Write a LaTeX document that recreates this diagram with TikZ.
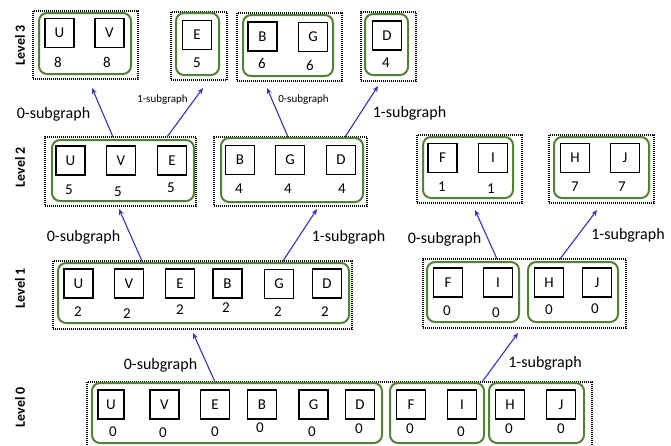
\documentclass[tikz,border=0pt]{standalone}
\usepackage{fontspec}
\setmainfont{Carlito}
\usetikzlibrary{arrows.meta}
\definecolor{grn}{RGB}{84,130,53}
\definecolor{arrblue}{RGB}{50,50,190}
\newcommand\mkbox[6]{%
 \pgfmathsetmacro\mbcx{(#3+#5)/2}\pgfmathsetmacro\mbcy{(#4+#6)/2}%
 \pgfmathsetmacro\mbw{#5-#3}\pgfmathsetmacro\mbh{#6-#4}%
 \node[#1, minimum width=\mbw pt, minimum height=\mbh pt] (#2) at (\mbcx,\mbcy) {};}
\tikzset{
 dotbox/.style={draw=black, line width=1.2pt, dash pattern=on 1pt off 1pt, inner sep=0pt, outer sep=0pt},
 grnbox/.style={draw=grn, line width=2pt, rounded corners=8pt, inner sep=0pt, outer sep=0pt},
 sq/.style={draw=black, line width=1.3pt, minimum width=29pt, minimum height=29pt, inner sep=0pt, font=\fontsize{15}{15}\selectfont},
 num/.style={inner sep=0pt, font=\fontsize{15}{15}\selectfont},
 lvl/.style={rotate=90, inner sep=0pt, font=\fontsize{14}{14}\selectfont\bfseries},
 biglab/.style={anchor=base, inner sep=0pt, font=\fontsize{16}{16}\selectfont},
 smalllab/.style={anchor=base, inner sep=0pt, font=\fontsize{11}{11}\selectfont},
 arr/.style={draw=arrblue, line width=1.1pt, -{Stealth[length=6pt,width=5pt]}}
}
\begin{document}
\begin{tikzpicture}[x=1pt,y=-1pt]
\useasboundingbox (0,0) rectangle (671,445);
% level labels
\node[lvl] (lv3) at (20,45) {Level 3};
\node[lvl] (lv2) at (20,167) {Level 2};
\node[lvl] (lv1) at (20,288) {Level 1};
\node[lvl] (lv0) at (20,407) {Level 0};
% ---------- Level 3
\mkbox{dotbox}{l3a}{33}{11}{138}{79}
\mkbox{grnbox}{g3a}{39}{13}{131}{74}
\node[sq] (l3U) at (59.5,33) {U};
\node[sq] (l3V) at (109.5,33) {V};
\node[num] (l3Un) at (58,62) {8};
\node[num] (l3Vn) at (107,62) {8};
\mkbox{dotbox}{l3b}{171}{12}{227}{80}
\mkbox{grnbox}{g3b}{176}{13}{219}{75}
\node[sq] (l3E) at (197,35) {E};
\node[num] (l3En) at (197,63) {5};
\mkbox{dotbox}{l3c}{237}{13}{342}{81}
\mkbox{grnbox}{g3c}{243}{15}{333}{76}
\node[sq] (l3B) at (262.5,36.5) {B};
\node[sq] (l3G) at (313,37) {G};
\node[num] (l3Bn) at (262,63) {6};
\node[num] (l3Gn) at (310,65) {6};
\mkbox{dotbox}{l3d}{361}{12}{416}{81}
\mkbox{grnbox}{g3d}{365}{14}{408}{75}
\node[sq] (l3D) at (387,35.5) {D};
\node[num] (l3Dn) at (386,63) {4};
% ---------- Level 2
\mkbox{dotbox}{l2a}{45}{137}{196}{206}
\mkbox{grnbox}{g2a}{52}{140}{194}{201}
\node[sq] (l2U) at (70.5,160.5) {U};
\node[sq] (l2V) at (121,160.5) {V};
\node[sq] (l2E) at (172,160.5) {E};
\node[num] (l2Un) at (69,190) {5};
\node[num] (l2Vn) at (118,192) {5};
\node[num] (l2En) at (171,188) {5};
\mkbox{dotbox}{l2b}{214}{137}{367}{206}
\mkbox{grnbox}{g2b}{221}{138}{363}{202}
\node[sq] (l2B) at (240,160) {B};
\node[sq] (l2G) at (290,160) {G};
\node[sq] (l2D) at (341,160) {D};
\node[num] (l2Bn) at (239,189) {4};
\node[num] (l2Gn) at (288,189) {4};
\node[num] (l2Dn) at (342,189) {4};
\mkbox{dotbox}{l2c}{417}{135}{522}{203}
\mkbox{grnbox}{g2c}{423}{137}{513}{198}
\node[sq] (l2F) at (442.5,158) {F};
\node[sq] (l2I) at (493,158) {I};
\node[num] (l2Fn) at (442,187) {1};
\node[num] (l2In) at (491,189) {1};
\mkbox{dotbox}{l2d}{549}{135}{654}{203}
\mkbox{grnbox}{g2d}{554}{137}{649}{198}
\node[sq] (l2H) at (575,158) {H};
\node[sq] (l2J) at (625,158) {J};
\node[num] (l2Hn) at (575,187) {7};
\node[num] (l2Jn) at (622,187) {7};
% ---------- Level 1
\mkbox{dotbox}{l1a}{53}{261}{352}{329}
\mkbox{grnbox}{g1a}{58}{263}{349}{323}
\node[sq] (l1U) at (78.5,283.5) {U};
\node[sq] (l1V) at (129,283.5) {V};
\node[sq] (l1E) at (180,283.5) {E};
\node[sq] (l1B) at (227.5,283.5) {B};
\node[sq] (l1G) at (279,284) {G};
\node[sq] (l1D) at (327,283.5) {D};
\node[num] (l1Un) at (78,312) {2};
\node[num] (l1Vn) at (127,314) {2};
\node[num] (l1En) at (180,310) {2};
\node[num] (l1Bn) at (226,308) {2};
\node[num] (l1Gn) at (278,312) {2};
\node[num] (l1Dn) at (325,312) {2};
\mkbox{dotbox}{l1b}{423}{259}{626}{328}
\mkbox{grnbox}{g1f}{427}{262}{519}{322}
\mkbox{grnbox}{g1h}{528}{262}{618}{322}
\node[sq] (l1F) at (448,282.5) {F};
\node[sq] (l1I) at (498,282.5) {I};
\node[sq] (l1H) at (549,282.5) {H};
\node[sq] (l1J) at (597,282.5) {J};
\node[num] (l1Fn) at (447,311) {0};
\node[num] (l1In) at (496,313) {0};
\node[num] (l1Hn) at (549,310) {0};
\node[num] (l1Jn) at (595,309) {0};
% ---------- Level 0
\mkbox{dotbox}{l0}{87}{382}{592}{452}
\mkbox{grnbox}{g0a}{92}{383}{382}{443}
\mkbox{grnbox}{g0b}{390}{383}{484}{443}
\mkbox{grnbox}{g0c}{489}{383}{584}{443}
\node[sq, minimum width=26pt] (l0U) at (111,404.5) {U};
\node[sq] (l0V) at (164.5,404.5) {V};
\node[sq] (l0E) at (215,404.5) {E};
\node[sq] (l0B) at (262,404.5) {B};
\node[sq] (l0G) at (313.5,404.5) {G};
\node[sq] (l0D) at (360,404.5) {D};
\node[sq] (l0F) at (411,404.5) {F};
\node[sq] (l0I) at (462,404.5) {I};
\node[sq] (l0H) at (510,404.5) {H};
\node[sq] (l0J) at (561,404.5) {J};
\node[num] (l0Un) at (113,432) {0};
\node[num] (l0Vn) at (163,433) {0};
\node[num] (l0En) at (215,432) {0};
\node[num] (l0Bn) at (260,428) {0};
\node[num] (l0Gn) at (312,432) {0};
\node[num] (l0Dn) at (359,429) {0};
\node[num] (l0Fn) at (410,429) {0};
\node[num] (l0In) at (461,432) {0};
\node[num] (l0Hn) at (509,429) {0};
\node[num] (l0Jn) at (561,429) {0};
% ---------- arrows
\draw[arr] ([xshift=-7.5pt]l2a.north) -- ([xshift=6.5pt,yshift=-9pt]l3a.south);
\draw[arr] ([xshift=46.5pt]l2a.north) -- ([xshift=4pt,yshift=-8pt]l3b.south);
\draw[arr] ([xshift=-2.5pt]l2b.north) -- ([xshift=-22.5pt,yshift=-7pt]l3c.south);
\draw[arr] ([xshift=54.5pt]l2b.north) -- ([xshift=-10.5pt,yshift=-5pt]l3d.south);
\draw[arr] ([xshift=-60.5pt]l1a.north) -- ([xshift=-1.5pt,yshift=-3pt]l2a.south);
\draw[arr] ([xshift=80.5pt]l1a.north) -- ([xshift=26.5pt,yshift=-3pt]l2b.south);
\draw[arr] ([xshift=-27.5pt]l1b.north) -- ([xshift=5.5pt,yshift=-7pt]l2c.south);
\draw[arr] ([xshift=35.5pt]l1b.north) -- ([xshift=-4.5pt,yshift=-7pt]l2d.south);
\draw[arr] ([xshift=-124.5pt]l0.north) -- ([xshift=-9.5pt,yshift=-4pt]l1a.south);
\draw[arr] ([xshift=142.5pt]l0.north) -- ([xshift=-6.5pt,yshift=-5pt]l1b.south);
% ---------- labels
\node[biglab] (t1) at (53.5,118) {0-subgraph};
\node[smalllab] (t2) at (162.5,102) {1-subgraph};
\node[smalllab] (t3) at (303.5,102) {0-subgraph};
\node[biglab] (t4) at (409.5,117) {1-subgraph};
\node[biglab] (t5) at (83.5,241) {0-subgraph};
\node[biglab] (t6) at (348.5,241) {1-subgraph};
\node[biglab] (t7) at (444.5,243) {0-subgraph};
\node[biglab] (t8) at (628,239) {1-subgraph};
\node[biglab] (t9) at (160.5,369) {0-subgraph};
\node[biglab] (t10) at (545,367) {1-subgraph};
\end{tikzpicture}
\end{document}
